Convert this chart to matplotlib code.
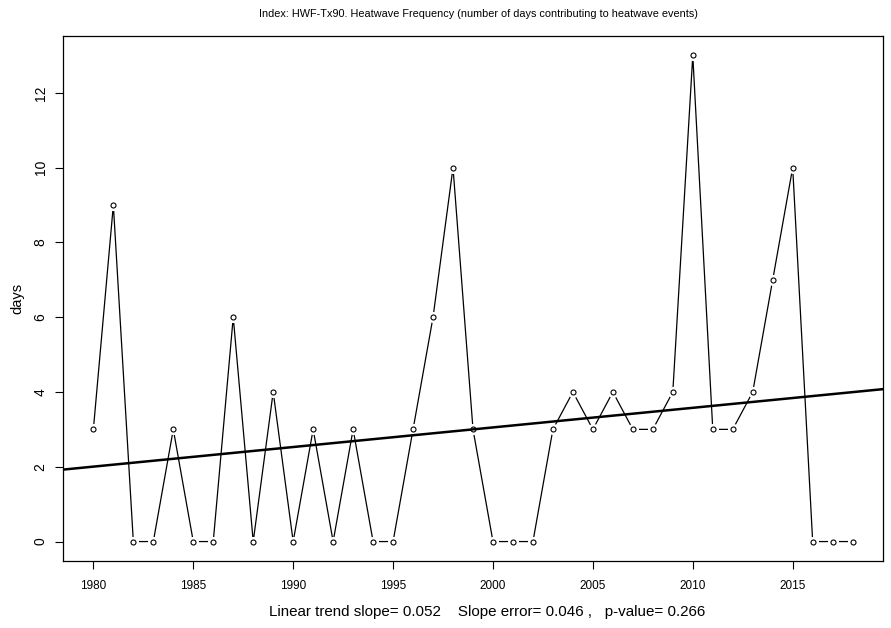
import numpy as np
import matplotlib
matplotlib.use('Agg')
import matplotlib.pyplot as plt

plt.rcParams['font.family'] = ['Liberation Sans', 'DejaVu Sans']

years = np.arange(1980, 2019)
days = [3, 9, 0, 0, 3, 0, 0, 6, 0, 4,
        0, 3, 0, 3, 0, 0, 3, 6, 10, 3,
        0, 0, 0, 3, 4, 3, 4, 3, 3, 4,
        13, 3, 3, 4, 7, 10, 0, 0, 0]
xticks = [1980, 1985, 1990, 1995, 2000, 2005, 2010, 2015]
yticks = [0, 2, 4, 6, 8, 10, 12]
title = 'Index: HWF-Tx90. Heatwave Frequency (number of days contributing to heatwave events)'
footer = 'Linear trend slope= 0.052    Slope error= 0.046 ,   p-value= 0.266'

fig = plt.figure(figsize=(8.91, 6.28), dpi=100)
ax = fig.add_axes([63/891, 1-561/628, 820/891, 525/628])

# R type="b" style: line with gaps around the points
ax.plot(years, days, color='black', lw=0.9, zorder=2)
ax.plot(years, days, 'o', ms=8, mfc='white', mec='none', zorder=3)
ax.plot(years, days, 'o', ms=3.6, mfc='white', mec='black', mew=0.8, zorder=4)

# least squares trend across the whole plot
slope, intercept = np.polyfit(years, days, 1)
ax.axline((years[0], intercept + slope*years[0]), slope=slope, color='black', lw=1.8, zorder=5)

# R's 4% axis extension
xr = years[-1] - years[0]
ax.set_xlim(years[0] - 0.04*xr, years[-1] + 0.04*xr)
yr = max(days) - min(days)
ax.set_ylim(min(days) - 0.04*yr, max(days) + 0.04*yr)

ax.set_xticks(xticks)
ax.set_yticks(yticks)
ax.tick_params(axis='both', direction='out', length=6, width=0.8)
ax.tick_params(axis='x', labelsize=8.5, pad=8)
ax.tick_params(axis='y', labelsize=10, pad=5)
for lab in ax.get_yticklabels():
    lab.set_rotation(90)
    lab.set_va('center')
for sp in ax.spines.values():
    sp.set_linewidth(0.9)

ax.set_ylabel('days', fontsize=10.5, labelpad=7)
fig.text(478/891, 1 - 14/628, title, ha='center', va='center', fontsize=7.85)
fig.text(487/891, 1 - 612/628, footer, ha='center', va='center', fontsize=10.9)

fig.savefig('out.png', dpi=100)
